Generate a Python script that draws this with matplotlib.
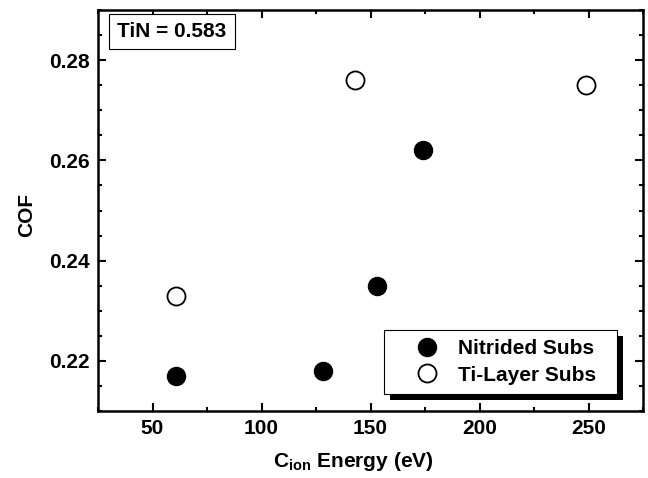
import matplotlib
matplotlib.use("Agg")
import matplotlib.pyplot as plt
from matplotlib.patches import Rectangle
from matplotlib.transforms import IdentityTransform
from matplotlib.ticker import MultipleLocator

plt.rcParams['font.family'] = ['Liberation Sans', 'DejaVu Sans']
plt.rcParams['font.weight'] = 'bold'
plt.rcParams['mathtext.fontset'] = 'custom'
plt.rcParams['mathtext.rm'] = 'Liberation Sans:bold'
plt.rcParams['mathtext.it'] = 'Liberation Sans:bold'
plt.rcParams['mathtext.bf'] = 'Liberation Sans:bold'

nitrided_x = [61, 128, 153, 174]
nitrided_y = [0.217, 0.218, 0.235, 0.262]
tilayer_x = [61, 143, 249]
tilayer_y = [0.233, 0.276, 0.275]
xticks = [50, 100, 150, 200, 250]
yticks = [0.22, 0.24, 0.26, 0.28]

FS = 15

fig = plt.figure(figsize=(6.48, 4.78), dpi=100)
ax = fig.add_axes([98/648, 1-411/478, (643-98)/648, (411-10)/478])

ax.plot(nitrided_x, nitrided_y, 'o', color='black', markersize=13, label='Nitrided Subs', linestyle='none')
ax.plot(tilayer_x, tilayer_y, 'o', markerfacecolor='white', markeredgecolor='black',
        markeredgewidth=1.3, markersize=13, label='Ti-Layer Subs', linestyle='none')

ax.set_xlim(25, 275)
ax.set_ylim(0.21, 0.29)
ax.set_xticks(xticks)
ax.set_yticks(yticks)
ax.set_yticklabels([f'{v:.2f}' for v in yticks])
ax.xaxis.set_minor_locator(MultipleLocator(25))
ax.yaxis.set_minor_locator(MultipleLocator(0.005))
ax.tick_params(which='both', direction='in', top=True, right=True, width=1.5, labelsize=FS)
ax.tick_params(which='major', length=6, pad=6)
ax.tick_params(which='minor', length=3)
for s in ax.spines.values():
    s.set_linewidth(1.8)

ax.set_xlabel(r'C$_{\rm ion}$ Energy (eV)', fontsize=FS, fontweight='bold')
ax.set_ylabel('COF', fontsize=FS, fontweight='bold')
ax.xaxis.set_label_coords(0.469, -0.098)
ax.yaxis.set_label_coords(-0.113, 0.489)

ax.text(0.035, 0.97, 'TiN = 0.583', transform=ax.transAxes, fontsize=FS, fontweight='bold',
        ha='left', va='top',
        bbox=dict(boxstyle='square,pad=0.4', facecolor='white', edgecolor='black', linewidth=0.8))

leg = ax.legend(loc='lower left', bbox_to_anchor=(0.5248, 0.0424, 0.4275, 0.16), mode='expand',
                fontsize=FS, frameon=True, fancybox=False, edgecolor='black', framealpha=1,
                borderpad=0.45, handletextpad=-0.1, labelspacing=0.35, handlelength=3.2,
                borderaxespad=0)
leg.get_frame().set_linewidth(0.8)
leg.set_zorder(10)

fig.canvas.draw()
bb = leg.get_window_extent()
shadow = Rectangle((bb.x0 + 6, bb.y0 - 6), bb.width, bb.height, transform=IdentityTransform(),
                   facecolor='black', edgecolor='none', zorder=9, clip_on=False)
ax.add_artist(shadow)

fig.savefig('out.png', dpi=100)
